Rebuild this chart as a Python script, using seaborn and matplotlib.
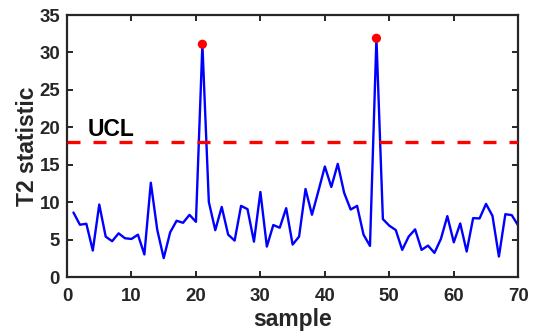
import numpy as np
import pandas as pd
import matplotlib
matplotlib.use("Agg")
import matplotlib.pyplot as plt
import seaborn as sns

sns.set_style("ticks", {"xtick.direction": "in", "ytick.direction": "in"})
plt.rcParams["font.family"] = ["Liberation Sans", "DejaVu Sans"]
plt.rcParams["font.weight"] = "bold"
plt.rcParams["axes.labelweight"] = "bold"

# T2 statistic per sample
sample = list(range(1, 71))
t2 = [8.62, 6.99, 7.12, 3.54, 9.69, 5.40, 4.79, 5.84, 5.18, 5.09,
      5.66, 3.02, 12.6, 6.30, 2.53, 5.97, 7.52, 7.25, 8.31, 7.38,
      31.1, 10.03, 6.26, 9.37, 5.66, 4.87, 9.51, 9.07, 4.73, 11.37,
      4.07, 6.95, 6.59, 9.20, 4.34, 5.40, 11.76, 8.32, 11.5, 14.77,
      12.03, 15.12, 11.23, 9.02, 9.51, 5.66, 4.16, 31.9, 7.74, 6.86,
      6.28, 3.63, 5.40, 6.37, 3.63, 4.20, 3.23, 5.09, 8.14, 4.64,
      7.16, 3.41, 7.87, 7.83, 9.77, 8.18, 2.74, 8.40, 8.27, 6.86]
ucl = 18.0

df = pd.DataFrame({"sample": sample, "t2": t2})
out = df[df["t2"] > ucl]

fig = plt.figure(figsize=(5.34, 3.35), dpi=100)
ax = fig.add_axes([0.1255, 0.173, 0.845, 0.782])

sns.lineplot(data=df, x="sample", y="t2", color="blue", linewidth=1.7, ax=ax)
sns.scatterplot(data=out, x="sample", y="t2", color="red", s=44,
                edgecolor="none", zorder=5, ax=ax)
ax.axhline(ucl, color="red", linewidth=2.4, dashes=(3.9, 3.9), zorder=4)
ax.text(3.2, ucl + 0.8, "UCL", fontsize=16.5, fontweight="bold",
        color="black", ha="left", va="baseline")

ax.set_xlim(0, 70)
ax.set_ylim(0, 35)
ax.set_xticks(range(0, 71, 10))
ax.set_yticks(range(0, 36, 5))
ax.set_xlabel("sample", fontsize=16.5, labelpad=2, color="#262626")
ax.set_ylabel("T2 statistic", fontsize=16.5, labelpad=0, color="#262626")

for s in ax.spines.values():
    s.set_visible(True)
    s.set_linewidth(1.6)
    s.set_color("#262626")
ax.tick_params(axis="both", which="both", direction="in", top=True, right=True,
               length=4, width=1.4, color="#262626", labelsize=13.4,
               labelcolor="#262626")
ax.tick_params(axis="x", pad=8)
ax.tick_params(axis="y", pad=5)

fig.savefig("out.png", dpi=100)
